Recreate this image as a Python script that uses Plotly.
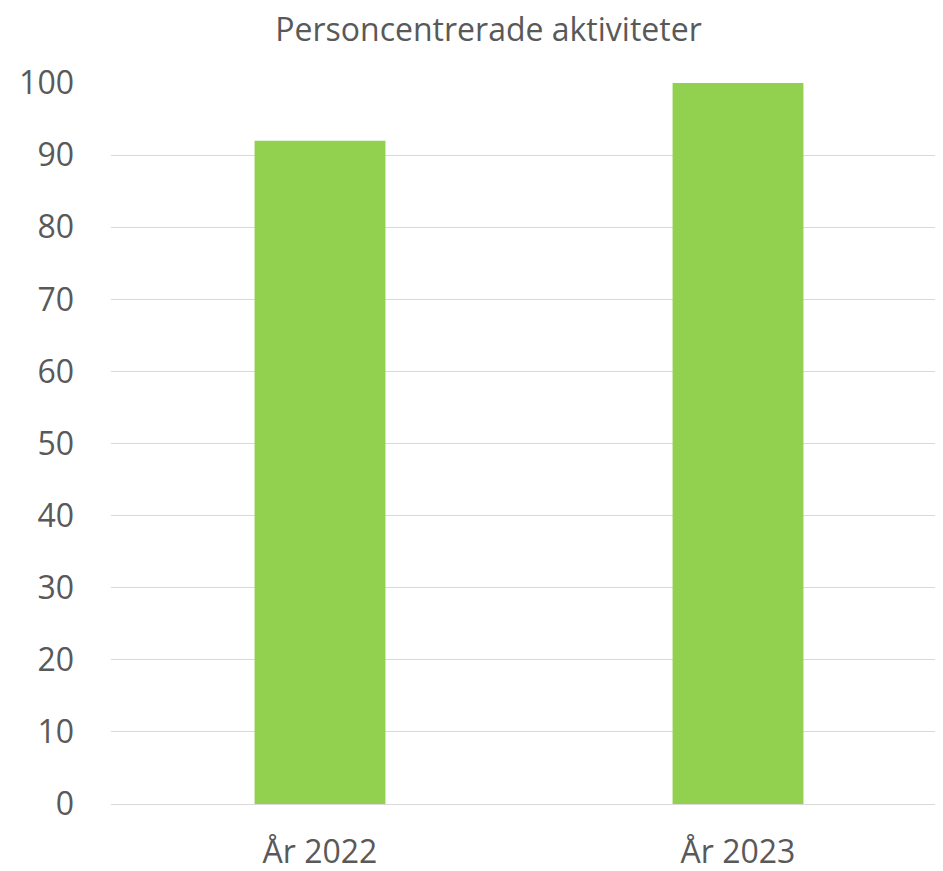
import plotly.graph_objects as go

categories = ["År 2022", "År 2023"]
values = [92, 100]
y_ticks = [0, 10, 20, 30, 40, 50, 60, 70, 80, 90, 100]

FONT = "Open Sans"
TXT = "#595959"
OFF = 8  # page body margin

W, H = 943 - OFF, 871 - OFF

fig = go.Figure(go.Bar(
    x=list(range(len(categories))),
    y=values,
    width=0.313,
    marker=dict(color="#92D050", line=dict(width=0)),
))

fig.update_layout(
    width=W, height=H,
    margin=dict(l=111 - OFF, r=0, t=83 - OFF, b=67),
    paper_bgcolor="white", plot_bgcolor="white",
    showlegend=False,
    title=dict(text="Personcentrerade aktiviteter", x=(488.5 - OFF) / W, xanchor="center",
               y=1 - (30 - OFF) / H, yanchor="middle",
               font=dict(family=FONT, size=32, color=TXT)),
    font=dict(family=FONT, color=TXT),
)
fig.update_xaxes(
    tickmode="array", tickvals=list(range(len(categories))), ticktext=categories,
    range=[-0.5, -0.5 + 832/418],
    showgrid=False, zeroline=False, showline=False,
    tickfont=dict(family=FONT, size=32, color=TXT),
    ticks="outside", ticklen=0, tickcolor="white",
    ticklabelstandoff=20,
)
fig.update_yaxes(
    range=[0, 100], tickvals=y_ticks,
    showgrid=True, gridcolor="#D9D9D9", gridwidth=1.3,
    zeroline=True, zerolinecolor="#D9D9D9", zerolinewidth=1.3,
    showline=False,
    tickfont=dict(family=FONT, size=32, color=TXT),
    ticklabelstandoff=36,
)

fig.write_html("out.html")
